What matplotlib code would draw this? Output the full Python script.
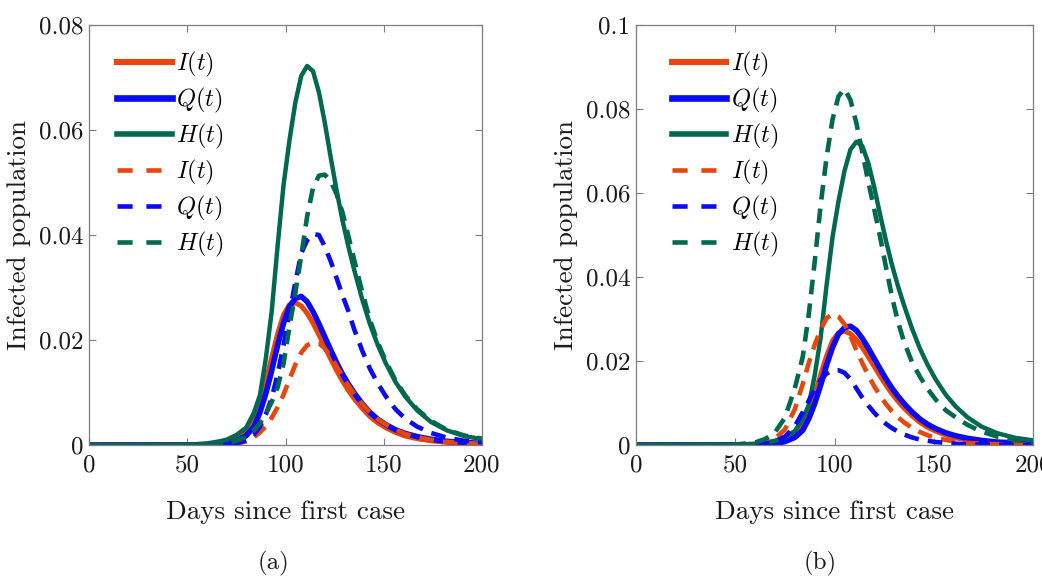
import matplotlib
matplotlib.use('Agg')
import matplotlib.pyplot as plt
from matplotlib.lines import Line2D

plt.rcParams['font.family'] = 'serif'
plt.rcParams['font.serif'] = ['cmr10']
plt.rcParams['mathtext.fontset'] = 'cm'
plt.rcParams['axes.formatter.use_mathtext'] = True
plt.rcParams['axes.unicode_minus'] = False

# ---------------- data ----------------
days = [0, 50, 60, 65, 70, 75, 80, 84, 87, 90,
        93, 96, 99, 102, 105, 108, 111, 114, 117, 120,
        123, 126, 129, 132, 135, 139, 143, 147, 151, 156,
        161, 167, 174, 182, 191, 200]

# solid curves (identical in both panels)
I_solid = [0, 0.00002, 0.0001, 0.0002, 0.0004, 0.001, 0.0024, 0.0045, 0.0078, 0.012,
           0.0167, 0.0212, 0.0248, 0.0267, 0.0271, 0.0265, 0.0251, 0.0232, 0.021, 0.0187,
           0.0164, 0.0142, 0.0122, 0.0104, 0.0088, 0.007, 0.0054, 0.0042, 0.0033, 0.0024,
           0.0017, 0.0012, 0.0008, 0.0005, 0.0003, 0.0002]
Q_solid = [0, 0.00001, 0.00008, 0.00015, 0.0003, 0.0008, 0.0018, 0.0035, 0.0062, 0.0098,
           0.0142, 0.019, 0.0232, 0.0264, 0.0279, 0.0283, 0.0273, 0.0254, 0.0231, 0.0206,
           0.0181, 0.0157, 0.0135, 0.0116, 0.0099, 0.0079, 0.0062, 0.0049, 0.0039, 0.0029,
           0.0022, 0.0016, 0.0011, 0.0007, 0.0005, 0.0003]
H_solid = [0, 0.00005, 0.0003, 0.0006, 0.001, 0.0019, 0.0033, 0.0062, 0.0095, 0.0165,
           0.0255, 0.038, 0.0495, 0.058, 0.0652, 0.0703, 0.0722, 0.0712, 0.0672, 0.0614,
           0.0548, 0.0485, 0.0428, 0.0378, 0.0333, 0.0278, 0.023, 0.019, 0.0156, 0.012,
           0.0092, 0.0066, 0.0044, 0.0028, 0.0017, 0.0011]

# dashed curves, panel (a)
I_dash_a = [0, 0, 0.00002, 0.00005, 0.0001, 0.0002, 0.0007, 0.0015, 0.0024, 0.0036,
            0.0052, 0.0072, 0.0096, 0.0125, 0.0153, 0.0176, 0.019, 0.0195, 0.0194, 0.0184,
            0.0168, 0.015, 0.0131, 0.0113, 0.0097, 0.0078, 0.0062, 0.0049, 0.0039, 0.0029,
            0.0021, 0.0015, 0.001, 0.0006, 0.0004, 0.0002]
Q_dash_a = [0, 0, 0.00002, 0.00005, 0.0001, 0.0003, 0.0009, 0.002, 0.0035, 0.0058,
            0.009, 0.0135, 0.019, 0.025, 0.031, 0.0365, 0.039, 0.0402, 0.0400, 0.0378,
            0.035, 0.0318, 0.0285, 0.0255, 0.022, 0.018, 0.0145, 0.0117, 0.0093, 0.0068,
            0.005, 0.0035, 0.0023, 0.0014, 0.0008, 0.0005]
H_dash_a = [0, 0, 0.00005, 0.0001, 0.0003, 0.0008, 0.0015, 0.0028, 0.0042, 0.006,
            0.0082, 0.011, 0.0155, 0.0225, 0.029, 0.036, 0.0435, 0.049, 0.0513, 0.0515,
            0.0502, 0.0478, 0.0443, 0.0398, 0.0352, 0.0292, 0.0238, 0.0195, 0.016, 0.0123,
            0.0094, 0.0068, 0.0046, 0.0029, 0.0018, 0.0012]

# dashed curves, panel (b)
I_dash_b = [0, 0.00003, 0.0002, 0.0006, 0.0015, 0.0037, 0.0085, 0.0145, 0.0195, 0.0238,
            0.0275, 0.0302, 0.0312, 0.0306, 0.0288, 0.026, 0.0226, 0.0195, 0.0166, 0.014,
            0.0117, 0.0097, 0.008, 0.0066, 0.0054, 0.0041, 0.0031, 0.0023, 0.0017, 0.0012,
            0.0008, 0.0005, 0.0003, 0.0002, 0.0001, 0.0001]
Q_dash_b = [0, 0.00001, 0.0001, 0.0003, 0.0008, 0.002, 0.0045, 0.0078, 0.0105, 0.0133,
            0.0155, 0.017, 0.0178, 0.0178, 0.0172, 0.0157, 0.0135, 0.0113, 0.0094, 0.0077,
            0.0062, 0.005, 0.004, 0.0032, 0.0025, 0.0018, 0.0013, 0.001, 0.0007, 0.0005,
            0.0003, 0.0002, 0.0001, 0.0001, 0, 0]
H_dash_b = [0, 0.0001, 0.0006, 0.0014, 0.003, 0.0065, 0.0135, 0.021, 0.031, 0.0435,
            0.057, 0.0685, 0.0775, 0.083, 0.0848, 0.0822, 0.0767, 0.0697, 0.0627, 0.0562,
            0.0495, 0.0422, 0.0352, 0.0293, 0.0246, 0.0198, 0.0163, 0.0133, 0.0108, 0.0083,
            0.0066, 0.0048, 0.0032, 0.002, 0.0012, 0.0007]

xticks = [0, 50, 100, 150, 200]
xtick_labels = ['0', '50', '100', '150', '200']
yticks_a = [0, 0.02, 0.04, 0.06, 0.08]
ytick_labels_a = ['0', '0.02', '0.04', '0.06', '0.08']
yticks_b = [0, 0.02, 0.04, 0.06, 0.08, 0.1]
ytick_labels_b = ['0', '0.02', '0.04', '0.06', '0.08', '0.1']
legend_labels = [r'$I(t)$', r'$Q(t)$', r'$H(t)$', r'$I(t)$', r'$Q(t)$', r'$H(t)$']
xlabel = 'Days since first case'
ylabel = 'Infected population'
captions = ['(a)', '(b)']

# ---------------- style ----------------
C_I = '#E8470C'
C_Q = '#0A0AF5'
C_H = '#00694F'
LW = {'I': 3.6, 'Q': 4.0, 'H': 3.2}
LW_D = 3.3
DASH = (0, (3.2, 2.0))
DASH_LEG = (0, (3.3, 3.0))
TXT = '#1a1a1a'

fig = plt.figure(figsize=(10.42, 5.77), dpi=100)
W, H = 1042, 577
ax_a = fig.add_axes([89 / W, 132 / H, 393 / W, 420 / H])
ax_b = fig.add_axes([636 / W, 132 / H, 397 / W, 420 / H])

panels = [
    (ax_a, I_dash_a, Q_dash_a, H_dash_a, yticks_a, ytick_labels_a, 0.08, 0.071),
    (ax_b, I_dash_b, Q_dash_b, H_dash_b, yticks_b, ytick_labels_b, 0.1, 0.090),
]

for ax, Id, Qd, Hd, yt, ytl, ymax, legx in panels:
    ax.plot(days, I_solid, color=C_I, lw=LW['I'])
    ax.plot(days, Q_solid, color=C_Q, lw=LW['Q'])
    ax.plot(days, H_solid, color=C_H, lw=LW['H'])
    ax.plot(days, Id, color=C_I, lw=LW_D, ls=DASH)
    ax.plot(days, Qd, color=C_Q, lw=LW_D, ls=DASH)
    ax.plot(days, Hd, color=C_H, lw=LW_D, ls=DASH)
    ax.set_xlim(0, 200)
    ax.set_ylim(0, ymax)
    ax.set_xticks(xticks)
    ax.set_xticklabels(xtick_labels)
    ax.set_yticks(yt)
    ax.set_yticklabels(ytl)
    ax.tick_params(direction='in', length=5, width=0.8, top=True, right=True,
                   labelsize=18, colors='#7f7f7f', labelcolor=TXT)
    ax.tick_params(axis='x', pad=7)
    ax.tick_params(axis='y', pad=4)
    for sp in ax.spines.values():
        sp.set_color('#7f7f7f')
        sp.set_linewidth(0.9)
    ax.set_xlabel(xlabel, fontsize=19.5, color=TXT, labelpad=17)
    ax.set_ylabel(ylabel, fontsize=19.5, color=TXT, labelpad=6)

    handles = [
        Line2D([], [], color=C_I, lw=LW['I'] + 0.8),
        Line2D([], [], color=C_Q, lw=LW['Q'] + 0.8),
        Line2D([], [], color=C_H, lw=LW['H'] + 0.8),
        Line2D([], [], color=C_I, lw=LW_D, ls=DASH_LEG),
        Line2D([], [], color=C_Q, lw=LW_D, ls=DASH_LEG),
        Line2D([], [], color=C_H, lw=LW_D, ls=DASH_LEG),
    ]
    ax.legend(handles, legend_labels, loc='upper left', bbox_to_anchor=(legx, 0.94),
              frameon=False, fontsize=17.5, handlelength=2.25, handletextpad=0.2,
              labelspacing=0.28, borderpad=0, borderaxespad=0)

fig.text(273 / W, 1 - 563 / H, captions[0], ha='center', va='center', fontsize=18, color=TXT)
fig.text(820 / W, 1 - 563 / H, captions[1], ha='center', va='center', fontsize=18, color=TXT)

fig.savefig('out.png', dpi=100)
